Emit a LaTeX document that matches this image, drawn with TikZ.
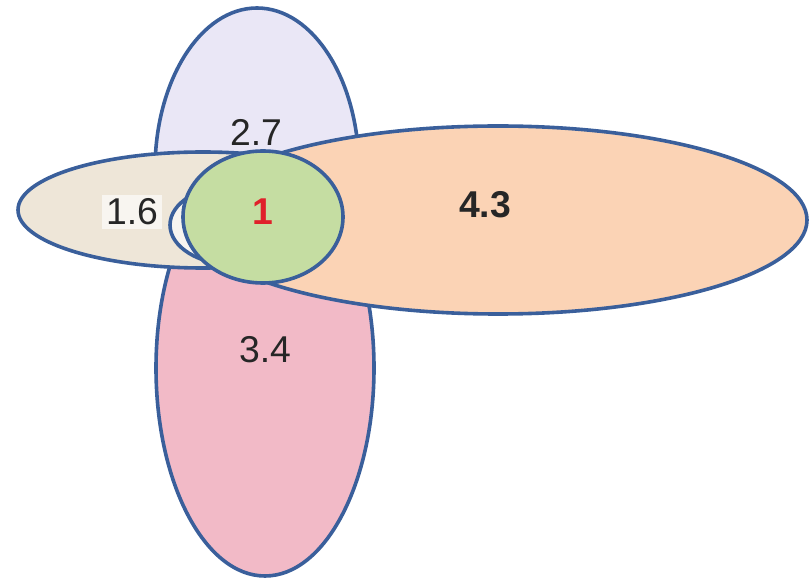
\documentclass[tikz,border=0pt]{standalone}
\usepackage{fontspec}
\setmainfont{Liberation Sans}
\usetikzlibrary{shapes.geometric,positioning}
\definecolor{rim}{HTML}{3A5F9B}
\definecolor{lilac}{HTML}{EAE7F6}
\definecolor{rose}{HTML}{F2BAC7}
\definecolor{sand}{HTML}{EEE6D8}
\definecolor{peach}{HTML}{FBD3B5}
\definecolor{sage}{HTML}{C5DDA2}
\definecolor{paper}{HTML}{F8F5F0}
\definecolor{numred}{HTML}{E0202A}
\begin{document}
\begin{tikzpicture}[x=0.75pt,y=-0.75pt,
  blob/.style={ellipse,draw=rim,line width=2.7pt,inner sep=0pt},
  blobsize/.style 2 args={minimum width=#1*0.75pt,minimum height=#2*0.75pt},
  num/.style={font=\fontsize{28}{32}\selectfont,text=black!85}]
\useasboundingbox (0,0) rectangle (812,580);
% sets, back to front
\node[blob,fill=lilac,blobsize={204}{324}] (top) at (257,170) {};
\node[blob,fill=rose,blobsize={218}{416}] (low) at (265,368) {};
\node[blob,fill=sand,blobsize={370}{116}] (left) at (203,210) {};
\node[blob,fill=peach,blobsize={618}{188}] (right) at (498,220) {};
\node[blob,fill=paper,blobsize={130}{80}] (rim) at (235,225) {};
\node[blob,fill=sage,blobsize={160}{132}] (core) at (263,217) {};
% values
\node[num] (vtop) at (256,132) {2.7};
\node[num,fill=paper,inner sep=3pt] (vleft) at (132,212) {1.6};
\node[num,font=\fontsize{28}{32}\selectfont\bfseries,text=numred] (vcore) at (263,212) {1};
\node[num,font=\fontsize{28}{32}\selectfont\bfseries] (vright) at (485,205) {4.3};
\node[num] (vlow) at (265,350) {3.4};
\end{tikzpicture}
\end{document}
